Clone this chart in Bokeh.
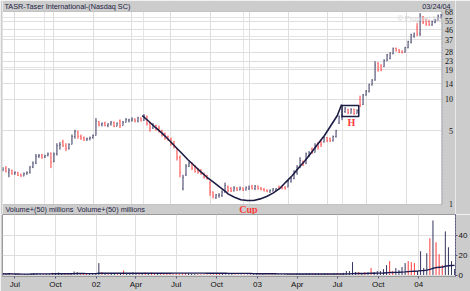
import numpy as np
import pandas as pd
from bokeh.plotting import figure
from bokeh.layouts import column
from bokeh.models import (FixedTicker, Grid, Label, LabelSet, Range1d, BoxAnnotation,
                          PolyAnnotation, ColumnDataSource, LogScale)
from bokeh.embed import file_html
from bokeh.resources import INLINE

# ---------------- data ----------------
week_start = "2001-06-04"
n_weeks = 147

opens = [2.10, 2.20, 2.00, 2.10, 1.95, 2.00, 1.90, 1.85, 1.95, 2.00,
         2.25, 2.45, 2.85, 2.95, 2.80, 2.90, 3.05, 2.55, 3.00, 3.60,
         3.90, 3.60, 3.40, 3.70, 4.40, 4.90, 4.40, 4.30, 4.10, 4.20,
         4.30, 4.50, 6.10, 5.70, 5.90, 5.60, 5.80, 6.00, 5.50, 6.20,
         5.60, 6.00, 6.30, 6.30, 6.50, 6.20, 6.60, 6.30, 6.90, 5.90,
         5.30, 5.60, 5.30, 5.00, 4.70, 4.40, 4.10, 3.80, 3.40, 2.80,
         1.40, 1.90, 2.30, 2.45, 2.30, 2.10, 2.10, 1.95, 1.85, 1.60,
         1.30, 1.15, 1.20, 1.20, 1.30, 1.45, 1.40, 1.33, 1.42, 1.36,
         1.42, 1.36, 1.40, 1.48, 1.40, 1.48, 1.42, 1.38, 1.35, 1.30,
         1.33, 1.36, 1.45, 1.45, 1.45, 1.45, 1.65, 1.75, 2.00, 2.25,
         2.55, 2.45, 2.90, 3.35, 3.10, 3.80, 3.90, 3.90, 4.30, 4.20,
         4.00, 4.40, 5.90, 6.70, 7.60, 8.00, 7.30, 8.00, 7.30, 10.0,
         8.90, 10.9, 11.8, 13.6, 15.2, 22.0, 21.0, 20.5, 23.5, 24.5,
         27.0, 30.5, 29.5, 28.8, 28.0, 31.0, 35.0, 40.0, 48.0, 42.0,
         61.0, 56.0, 55.0, 51.0, 54.0, 57.0, 60.0]
highs = [2.25, 2.30, 2.20, 2.12, 2.05, 2.02, 1.95, 2.00, 2.05, 2.30,
         2.55, 3.00, 3.00, 3.00, 2.95, 3.10, 3.10, 3.10, 3.80, 3.90,
         4.10, 3.80, 3.80, 4.60, 5.10, 5.00, 4.60, 4.40, 4.30, 4.40,
         4.60, 6.60, 6.20, 6.00, 6.10, 5.90, 6.20, 6.10, 6.00, 6.40,
         6.20, 6.60, 6.50, 6.70, 6.55, 6.80, 6.70, 7.20, 6.95, 6.00,
         5.90, 5.70, 5.60, 5.10, 4.80, 4.50, 4.30, 4.00, 3.40, 2.90,
         1.90, 2.40, 2.55, 2.50, 2.35, 2.20, 2.15, 2.00, 1.90, 1.65,
         1.32, 1.25, 1.27, 1.35, 1.60, 1.50, 1.45, 1.48, 1.45, 1.47,
         1.44, 1.47, 1.50, 1.52, 1.52, 1.50, 1.45, 1.42, 1.38, 1.38,
         1.42, 1.42, 1.50, 1.50, 1.48, 1.70, 1.80, 2.10, 2.35, 2.80,
         2.60, 3.10, 3.20, 3.45, 3.80, 3.90, 4.10, 4.40, 4.35, 4.30,
         4.50, 5.10, 7.00, 7.10, 8.40, 8.10, 8.20, 8.10, 8.00, 10.8,
         11.2, 12.2, 14.0, 15.5, 23.0, 22.5, 21.5, 24.0, 27.0, 28.0,
         31.0, 31.0, 30.0, 29.2, 31.5, 36.0, 42.0, 43.0, 53.0, 66.0,
         62.0, 58.0, 57.0, 56.0, 58.0, 64.0, 65.0]
lows = [2.05, 2.00, 1.80, 1.90, 1.90, 1.85, 1.82, 1.84, 1.90, 1.95,
        2.20, 2.40, 2.75, 2.70, 2.75, 2.85, 2.20, 2.50, 2.90, 3.30,
        3.50, 3.20, 3.30, 3.70, 4.20, 4.20, 4.10, 4.00, 4.00, 4.05,
        4.20, 4.50, 5.50, 5.50, 5.50, 5.40, 5.60, 5.40, 5.50, 5.30,
        5.60, 6.00, 6.00, 6.10, 6.00, 6.00, 6.10, 6.20, 5.60, 4.90,
        5.20, 5.00, 4.80, 4.40, 4.10, 4.00, 3.60, 3.40, 2.60, 1.80,
        1.35, 1.85, 2.25, 2.10, 2.00, 1.95, 1.90, 1.75, 1.70, 1.20,
        1.13, 1.12, 1.15, 1.17, 1.28, 1.30, 1.30, 1.32, 1.33, 1.35,
        1.33, 1.35, 1.36, 1.38, 1.36, 1.37, 1.35, 1.32, 1.30, 1.28,
        1.32, 1.33, 1.38, 1.38, 1.38, 1.45, 1.60, 1.72, 1.90, 2.20,
        2.30, 2.40, 2.80, 3.00, 3.10, 3.30, 3.50, 3.85, 3.90, 3.90,
        3.95, 4.30, 5.80, 6.30, 7.40, 7.20, 7.30, 7.10, 7.30, 8.40,
        8.80, 10.8, 11.6, 13.5, 15.0, 18.3, 18.5, 20.3, 23.0, 24.0,
        26.8, 28.5, 27.5, 27.3, 27.8, 30.5, 34.0, 38.5, 40.0, 40.0,
        52.0, 50.0, 50.0, 50.0, 53.0, 56.0, 58.0]
closes = [2.15, 2.05, 2.10, 1.95, 2.00, 1.88, 1.85, 1.95, 2.00, 2.25,
          2.45, 2.85, 2.90, 2.80, 2.90, 3.00, 2.50, 3.00, 3.60, 3.70,
          3.60, 3.40, 3.70, 4.40, 4.90, 4.40, 4.20, 4.10, 4.20, 4.30,
          4.50, 6.20, 5.70, 5.85, 5.60, 5.80, 6.00, 5.50, 5.90, 5.60,
          6.00, 6.40, 6.35, 6.50, 6.20, 6.60, 6.30, 6.90, 5.80, 5.30,
          5.60, 5.20, 5.00, 4.60, 4.30, 4.10, 3.80, 3.50, 2.80, 2.00,
          1.80, 2.30, 2.45, 2.20, 2.05, 2.00, 1.95, 1.80, 1.75, 1.30,
          1.20, 1.22, 1.22, 1.30, 1.50, 1.35, 1.33, 1.42, 1.36, 1.42,
          1.35, 1.44, 1.46, 1.40, 1.48, 1.40, 1.38, 1.34, 1.31, 1.35,
          1.38, 1.40, 1.40, 1.42, 1.40, 1.65, 1.75, 2.00, 2.25, 2.60,
          2.40, 3.00, 3.10, 3.10, 3.60, 3.50, 3.70, 4.30, 4.00, 4.00,
          4.40, 5.00, 6.80, 7.00, 8.20, 7.40, 8.00, 7.30, 7.80, 8.80,
          11.0, 12.0, 13.8, 15.2, 21.0, 19.0, 19.0, 23.5, 26.5, 27.5,
          30.5, 29.0, 28.0, 27.8, 31.0, 35.5, 41.0, 42.5, 41.0, 62.0,
          54.0, 52.0, 51.0, 55.0, 57.0, 62.0, 63.0]
volumes = [1.2, 0.9, 1.5, 0.8, 0.7, 0.9, 0.6, 0.8, 1.0, 1.4,
           1.8, 2.0, 1.3, 1.1, 1.5, 1.0, 2.2, 1.4, 2.5, 1.6,
           1.9, 1.2, 1.0, 3.5, 2.8, 1.5, 1.1, 1.2, 1.0, 0.9,
           1.3, 12.0, 3.0, 1.8, 1.5, 1.2, 2.0, 1.6, 1.4, 4.5,
           1.8, 1.5, 2.5, 1.4, 1.2, 1.6, 2.5, 1.3, 2.4, 1.8,
           1.6, 1.4, 1.2, 1.5, 1.3, 1.1, 1.4, 1.2, 1.6, 2.0,
           1.8, 1.2, 1.0, 0.9, 0.8, 0.8, 0.7, 0.8, 0.9, 1.0,
           1.1, 0.9, 0.7, 0.8, 0.9, 0.8, 0.7, 0.6, 0.7, 0.6,
           0.7, 0.8, 0.6, 0.7, 0.8, 0.7, 0.6, 0.7, 0.8, 0.7,
           0.6, 0.7, 0.8, 0.9, 1.0, 1.3, 1.5, 1.4, 1.8, 2.0,
           1.6, 1.5, 1.7, 1.4, 1.6, 1.8, 1.5, 1.7, 2.0, 1.8,
           2.2, 4.0, 4.0, 13.0, 3.0, 3.0, 2.0, 3.0, 3.0, 7.0,
           3.0, 4.0, 4.0, 6.0, 10.0, 14.0, 4.0, 7.0, 5.0, 8.0,
           12.0, 14.0, 13.0, 12.0, 4.0, 24.0, 7.0, 22.0, 37.0, 55.0,
           33.0, 21.0, 10.0, 44.0, 28.0, 14.0, 6.0]
ma_period = 50

price_ticks = [1, 5, 10, 14, 19, 23, 28, 37, 46, 55, 68]
vol_ticks = [0, 20, 40]
quarter_dates = ["2001-07-01", "2001-10-01", "2002-01-01", "2002-04-01",
                 "2002-07-01", "2002-10-01", "2003-01-01", "2003-04-01",
                 "2003-07-01", "2003-10-01", "2004-01-01"]
quarter_labels = ["Jul", "Oct", "02", "Apr", "Jul", "Oct", "03", "Apr",
                  "Jul", "Oct", "04"]

cup_dates = ["2002-04-25", "2002-05-10", "2002-05-25", "2002-06-10",
             "2002-06-25", "2002-07-10", "2002-07-25", "2002-08-09",
             "2002-08-24", "2002-09-08", "2002-09-23", "2002-10-08",
             "2002-10-23", "2002-11-07", "2002-11-11", "2002-11-26",
             "2002-12-11", "2002-12-26", "2003-01-10", "2003-01-25",
             "2003-02-09", "2003-02-24", "2003-03-11", "2003-03-26",
             "2003-04-10", "2003-04-25", "2003-05-10", "2003-05-25",
             "2003-06-09", "2003-06-24", "2003-07-09", "2003-07-24",
             "2003-08-03"]
cup_prices = [6.98, 6.16, 5.40, 4.74, 4.12, 3.56, 3.08, 2.66,
              2.33, 2.04, 1.80, 1.62, 1.45, 1.30, 1.25, 1.16,
              1.10, 1.08, 1.08, 1.12, 1.18, 1.27, 1.40, 1.62,
              1.87, 2.22, 2.60, 3.12, 3.75, 4.50, 5.61, 6.98,
              8.89]
handle_dates = ["2003-08-04", "2003-09-12"]
handle_prices = [6.82, 8.69]

title_text = "TASR-Taser International-(Nasdaq SC)"
date_text = "03/24/04"
vol_text = "Volume+(50) millions"
watermark = "\u00a9 Prophet.Net"

# ---------------- styling / geometry ----------------
UP = "#34345f"
DOWN = "#ff3b3b"
BAND = "#cccccc"
EDGE = "#9a9a9a"
AXIS = "#55558a"
GRID = "#dedede"
FONT = "Liberation Sans"
TXT = "7.3px"
W = 470
X0 = pd.Timestamp("2001-06-03")
X1 = pd.Timestamp("2004-03-24")
FL, FR = 2, 456          # plot area, pixels
Y0, Y1 = 0.99, 68.5
FT, FB = 11, 204
H1 = 214
day = 86400000.0


def ms(d):
    return pd.Timestamp(d).value / 1e6


def xpx(px):
    return float(ms(X0) + (ms(X1) - ms(X0)) * (px - FL) / (FR - FL))


def ypx(py):
    l0, l1 = np.log10(Y0), np.log10(Y1)
    return float(10 ** (l0 + (FB - py) / (FB - FT) * (l1 - l0)))


dates = pd.date_range(week_start, periods=n_weeks, freq="7D")
t = np.array([d.value / 1e6 for d in dates])
colors = [UP if c >= o else DOWN for o, c in zip(opens, closes)]
q_ms = [ms(d) for d in quarter_dates]

# ---------------- price panel (frame covers bands) ----------------
p1 = figure(width=W, height=H1,
            x_range=Range1d(xpx(FL), xpx(W)), y_range=Range1d(ypx(H1), ypx(0)),
            x_axis_location=None, y_axis_location=None,
            output_backend="svg", toolbar_location=None,
            min_border_left=FL, min_border_right=0,
            min_border_top=0, min_border_bottom=0)
p1.y_scale = LogScale()
p1.background_fill_color = "white"
p1.border_fill_color = BAND
p1.outline_line_color = None
p1.add_layout(Grid(dimension=1, ticker=FixedTicker(ticks=price_ticks),
                   grid_line_color=GRID))
p1.add_layout(Grid(dimension=0, ticker=FixedTicker(ticks=q_ms),
                   grid_line_color=GRID))

p1.segment(x0=t, y0=lows, x1=t, y1=highs, color=colors, line_width=1)
p1.segment(x0=t - 1.2 * day, y0=opens, x1=t, y1=opens, color=colors, line_width=1)
p1.segment(x0=t, y0=closes, x1=t + 1.2 * day, y1=closes, color=colors, line_width=1)

p1.line(x=[ms(d) for d in cup_dates], y=cup_prices, line_color="#1c1c44",
        line_width=1.6)
p1.quad(left=[ms(handle_dates[0])], right=[ms(handle_dates[1])],
        bottom=[handle_prices[0]], top=[handle_prices[1]],
        fill_alpha=0, line_color="#1c1c44", line_width=1.5)

# gray bands (top, bottom, right)
p1.add_layout(BoxAnnotation(bottom=Y1, fill_color=BAND, fill_alpha=1,
                            line_color=None, level="annotation"))
p1.add_layout(BoxAnnotation(top=Y0, fill_color=BAND, fill_alpha=1,
                            line_color=None, level="annotation"))
p1.add_layout(BoxAnnotation(left=xpx(FR), bottom=Y0, top=Y1, fill_color=BAND,
                            fill_alpha=1, line_color=None, level="annotation"))
p1.add_layout(BoxAnnotation(left=xpx(FL), right=xpx(FR), bottom=Y0, top=Y1,
                            fill_alpha=0, line_color=EDGE, line_width=1,
                            level="annotation"))
p1.add_layout(PolyAnnotation(xs=[xpx(FR), xpx(FR)], ys=[Y0, Y1], fill_alpha=0,
                             line_color=AXIS, line_dash="2 1", line_width=1))

tick_src = ColumnDataSource(dict(x=[xpx(467.5)] * len(price_ticks),
                                 y=price_ticks,
                                 text=[str(v) for v in price_ticks]))
p1.add_layout(LabelSet(x="x", y="y", text="text", source=tick_src,
                       text_font=FONT, text_font_size="8px", text_color="#111111",
                       text_align="right", text_baseline="middle"))


def lab(px, py, text, align="left", color="#222244", font=FONT, size=TXT,
        style="normal"):
    p1.add_layout(Label(x=xpx(px), y=ypx(py), text=text, text_font=font,
                        text_font_size=size, text_color=color,
                        text_font_style=style, text_baseline="middle",
                        text_align=align))


lab(4, 5.5, title_text)
lab(465, 5.5, date_text, align="right")
lab(410, 18, watermark, color="#d4d4d4")
lab(5, 209, vol_text)
lab(79, 209, vol_text)
lab(256, 209, "Cup", align="center", color=DOWN, font="Liberation Serif",
    size="10px", style="bold")
lab(362.5, 121.5, "H", align="center", color=DOWN, font="Liberation Serif",
    size="10px", style="bold")

# ---------------- volume panel ----------------
p2 = figure(width=W, height=77, x_axis_type="datetime",
            x_range=Range1d(ms(X0), ms(X1)), y_range=Range1d(-1.5, 61),
            y_axis_location="right",
            output_backend="svg", toolbar_location=None,
            min_border_left=FL, min_border_right=W - FR,
            min_border_top=0, min_border_bottom=13)
p2.background_fill_color = "white"
p2.border_fill_color = BAND
p2.outline_line_color = EDGE
xa = p2.xaxis[0]
xa.ticker = FixedTicker(ticks=q_ms)
xa.major_label_overrides = {q: lb for q, lb in zip(q_ms, quarter_labels)}
xa.major_label_text_align = "left"
xa.major_label_text_font = FONT
xa.major_label_text_font_size = "8px"
xa.major_label_text_color = "#111111"
xa.major_label_standoff = 1
xa.major_tick_out = 2
xa.major_tick_in = 0
xa.minor_tick_line_color = None
xa.axis_line_color = EDGE
xa.major_tick_line_color = AXIS
p2.xgrid.grid_line_color = GRID
ya = p2.yaxis[0]
ya.ticker = FixedTicker(ticks=vol_ticks)
ya.major_label_text_font = FONT
ya.major_label_text_font_size = "8px"
ya.major_label_text_color = "#111111"
ya.major_label_standoff = 1
ya.major_tick_out = 2
ya.major_tick_in = 0
ya.minor_tick_line_color = None
ya.axis_line_color = AXIS
ya.axis_line_dash = "2 1"
ya.major_tick_line_color = AXIS
p2.ygrid.ticker = FixedTicker(ticks=vol_ticks)
p2.ygrid.grid_line_color = GRID

p2.segment(x0=t, y0=[0] * n_weeks, x1=t, y1=volumes, color=colors, line_width=1)
vol_ma = pd.Series(volumes).rolling(ma_period, min_periods=1).mean().values
p2.line(x=t, y=vol_ma, line_color="#1c1c50", line_width=1.4)

layout = column(p1, p2, spacing=0)
open("out.html", "w").write(file_html(layout, INLINE))
